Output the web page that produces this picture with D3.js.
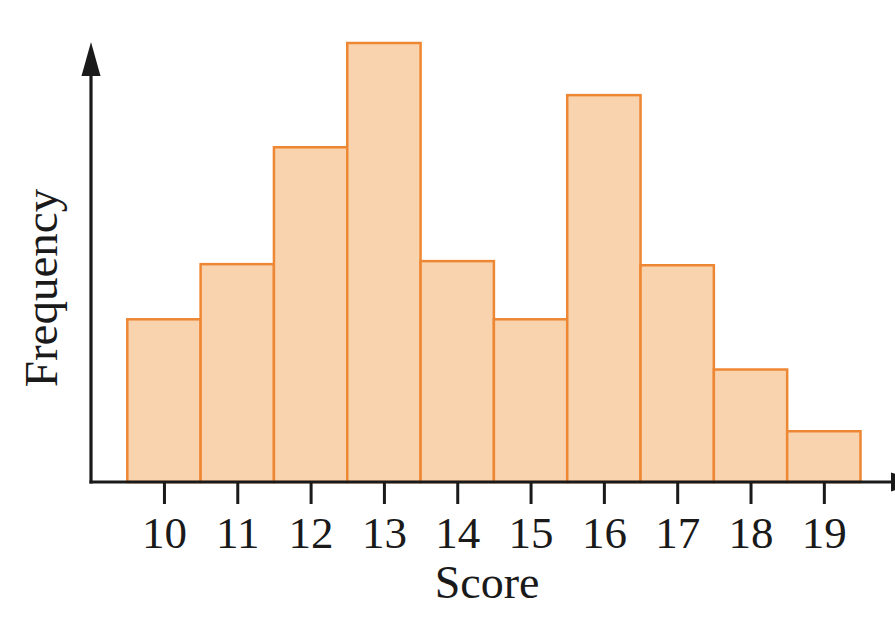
<!DOCTYPE html>
<html>
<head>
<meta charset="utf-8">
<script src="https://d3js.org/d3.v7.min.js"></script>
<style>
  body { margin: 0; background: #fff; }
  text { font-family: "Liberation Serif", "DejaVu Serif", serif; fill: #1a1a1a; }
</style>
</head>
<body>
<svg width="895" height="634"></svg>
<script>
// scores and how often each one came up (no y ticks shown)
var scores = [10, 11, 12, 13, 14, 15, 16, 17, 18, 19];
var freqs  = [5.93, 7.94, 12.2, 16, 8.05, 5.93, 14.1, 7.9, 4.1, 1.85];
var tickLabels = ["10", "11", "12", "13", "14", "15", "16", "17", "18", "19"];

var svg = d3.select("svg");
var originX = 91, originY = 482;

var x = d3.scaleLinear()
    .domain([9.5, 19.5])
    .range([127.3, 860.5]);
var y = d3.scaleLinear()
    .domain([0, 16])
    .range([originY, 43]);

// bars
svg.append("g")
  .selectAll("rect")
  .data(scores)
  .enter()
  .append("rect")
    .attr("x", d => x(d - 0.5))
    .attr("width", d => x(d + 0.5) - x(d - 0.5))
    .attr("y", (d, i) => y(freqs[i]))
    .attr("height", (d, i) => originY - y(freqs[i]))
    .attr("fill", "#f9d3ae")
    .attr("stroke", "#ee8733")
    .attr("stroke-width", 2.5);

// x axis with ticks, no domain path
var xAxis = svg.append("g")
    .attr("transform", "translate(0," + originY + ")")
    .call(d3.axisBottom(x)
      .tickValues(scores)
      .tickFormat((d, i) => tickLabels[i])
      .tickSizeOuter(0)
      .tickSizeInner(22)
      .tickPadding(12));
xAxis.select(".domain").remove();
xAxis.selectAll(".tick line").attr("stroke", "#1a1a1a").attr("stroke-width", 3);
xAxis.selectAll(".tick text")
    .attr("font-family", "Liberation Serif, serif")
    .attr("font-size", 45)
    .attr("fill", "#1a1a1a");

// axis lines with arrow heads
svg.append("line")
    .attr("x1", originX).attr("y1", originY + 1.5)
    .attr("x2", originX).attr("y2", 70)
    .attr("stroke", "#1a1a1a").attr("stroke-width", 3.2);
svg.append("path")
    .attr("d", "M" + originX + ",42 L" + (originX - 9.5) + ",76 L" + (originX + 9.5) + ",76 Z")
    .attr("fill", "#1a1a1a");

svg.append("line")
    .attr("x1", originX - 1.5).attr("y1", originY)
    .attr("x2", 892).attr("y2", originY)
    .attr("stroke", "#1a1a1a").attr("stroke-width", 3.2);
svg.append("path")
    .attr("d", "M923," + originY + " L891," + (originY - 9.5) + " L891," + (originY + 9.5) + " Z")
    .attr("fill", "#1a1a1a");

// axis titles
svg.append("text")
    .attr("x", 487)
    .attr("y", 598)
    .attr("text-anchor", "middle")
    .attr("font-size", 46)
    .text("Score");

svg.append("text")
    .attr("transform", "translate(57,288) rotate(-90)")
    .attr("text-anchor", "middle")
    .attr("font-size", 47)
    .text("Frequency");
</script>
</body>
</html>
